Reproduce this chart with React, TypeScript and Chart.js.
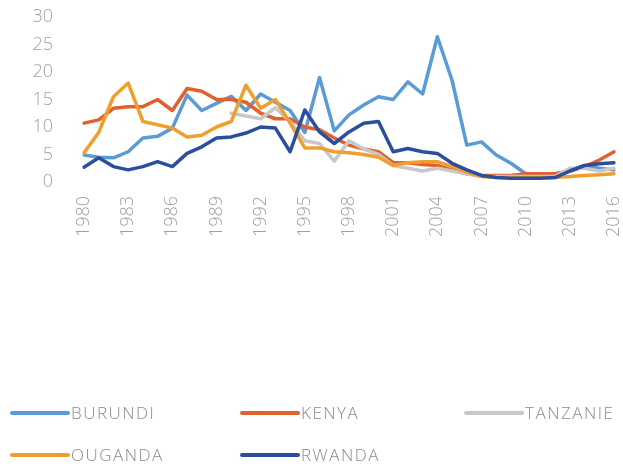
import React, { useEffect, useRef } from "react";
import { Chart, registerables } from "chart.js";

Chart.register(...registerables);

const years: string[] = [];
for (let y = 1980; y <= 2016; y++) years.push(String(y));

const seriesNames = ["BURUNDI", "KENYA", "TANZANIE", "OUGANDA", "RWANDA"];
const seriesColors = ["#5B9BD5", "#E2602B", "#C8C8C8", "#EE9F2E", "#2B4F9C"];

// 1980 .. 2016
const burundi = [4.9, 4.5, 4.4, 5.5, 8, 8.3, 9.8, 15.8, 13, 14.3, 15.6, 13, 16, 14.5, 13, 9, 19, 9.3, 12.2, 14, 15.5, 15, 18.2, 16, 26.4, 18.5, 6.7, 7.3, 4.9, 3.4, 1.5, 1.2, 1, 2, 3, 2.5, 2.2];
const kenya = [10.7, 11.3, 13.4, 13.7, 13.7, 15, 13, 17, 16.5, 15, 15, 14.5, 12.5, 11.5, 11.5, 10, 9.5, 8, 6.7, 6, 5.5, 3.5, 3.5, 3.2, 3, 2.2, 1.5, 1.2, 1.2, 1.2, 1.5, 1.5, 1.5, 2, 2.8, 4, 5.5];
const tanzanie = [null, null, null, null, null, null, null, null, null, null, 12.5, 12, 11.5, 13.5, 11, 7.5, 7, 3.8, 7.5, 6, 5, 3, 2.5, 2, 2.5, 2, 1.5, 1, 1, 1, 1, 1, 1, 2.5, 2.5, 2, 2.5];
const ouganda = [5.3, 9, 15.5, 18, 11, 10.4, 9.8, 8.2, 8.5, 10, 11, 17.6, 13.4, 15, 10.7, 6.2, 6.2, 5.5, 5.3, 5, 4.5, 3, 3.5, 3.7, 3.7, 2.8, 1.8, 1, 0.8, 0.8, 0.8, 0.8, 0.8, 1, 1.2, 1.3, 1.5];
const rwanda = [2.7, 4.4, 2.8, 2.2, 2.8, 3.7, 2.8, 5.2, 6.4, 8, 8.2, 8.9, 10, 9.8, 5.5, 13.1, 9.1, 7, 9.1, 10.7, 11, 5.5, 6.1, 5.5, 5.2, 3.4, 2.2, 1.2, 0.8, 0.7, 0.7, 0.7, 0.8, 2, 3, 3.3, 3.5];

const seriesData = [burundi, kenya, tanzanie, ouganda, rwanda];

const legendCols = [12, 242, 466];
const legendRows = [413, 455];
const legendLayout = [[0, 1, 2], [3, 4]];

const FONT = "'Open Sans', 'DejaVu Sans', sans-serif";

const legendPlugin = {
  id: "customLegend",
  afterDraw(chart: any) {
    const ctx = chart.ctx as CanvasRenderingContext2D;
    ctx.save();
    legendLayout.forEach((row, r) => {
      row.forEach((idx, c) => {
        const x = legendCols[c];
        const y = legendRows[r];
        ctx.strokeStyle = seriesColors[idx];
        ctx.lineWidth = 4;
        ctx.lineCap = "round";
        ctx.beginPath();
        ctx.moveTo(x, y);
        ctx.lineTo(x + 56, y);
        ctx.stroke();
        ctx.fillStyle = "#8a8a8a";
        ctx.font = `300 17px ${FONT}`;
        (ctx as any).letterSpacing = "1.5px";
        ctx.textBaseline = "middle";
        ctx.textAlign = "left";
        ctx.fillText(seriesNames[idx], x + 59, y + 1);
      });
    });
    ctx.restore();
  },
};

export default function App() {
  const ref = useRef<HTMLCanvasElement | null>(null);
  useEffect(() => {
    document.body.style.margin = "0";
    const canvas = ref.current;
    if (!canvas) return;
    const chart = new Chart(canvas, {
      type: "line",
      data: {
        labels: years,
        datasets: seriesNames.map((name, i) => ({
          label: name,
          data: seriesData[i] as any,
          borderColor: seriesColors[i],
          backgroundColor: seriesColors[i],
          borderWidth: 3.5,
          pointRadius: 0,
          tension: 0,
          fill: false,
          order: 5 - i,
          borderJoinStyle: "round" as const,
          borderCapStyle: "round" as const,
        })),
      },
      options: {
        animation: false,
        responsive: false,
        layout: { padding: { top: 17, right: 9, left: 0, bottom: 0 } },
        plugins: {
          legend: { display: false },
          tooltip: { enabled: false },
        },
        scales: {
          x: {
            grid: { display: false, drawTicks: false },
            border: { display: false },
            afterFit: (s: any) => {
              s.height = 288;
              s.paddingRight = 0;
              s.paddingLeft = 0;
            },
            ticks: {
              autoSkip: false,
              minRotation: 90,
              maxRotation: 90,
              padding: 14,
              color: "#a0a0a0",
              font: { family: FONT, size: 18, weight: "300" as any },
              callback: (_v: any, i: number) => ((i % 3 === 0) ? years[i] : ""),
            },
          },
          y: {
            min: 0,
            max: 30,
            grid: { display: false, drawTicks: false },
            border: { display: false },
            afterFit: (s: any) => {
              s.width = 84;
              s.paddingTop = 0;
              s.paddingBottom = 0;
            },
            ticks: {
              stepSize: 5,
              autoSkip: false,
              padding: 31,
              color: "#a0a0a0",
              font: { family: FONT, size: 18, weight: "300" as any },
            },
          },
        },
      },
      plugins: [legendPlugin],
    });
    return () => chart.destroy();
  }, []);
  return (
    <div style={{ width: 623, height: 470 }}>
      <canvas ref={ref} width={623} height={470} />
    </div>
  );
}
